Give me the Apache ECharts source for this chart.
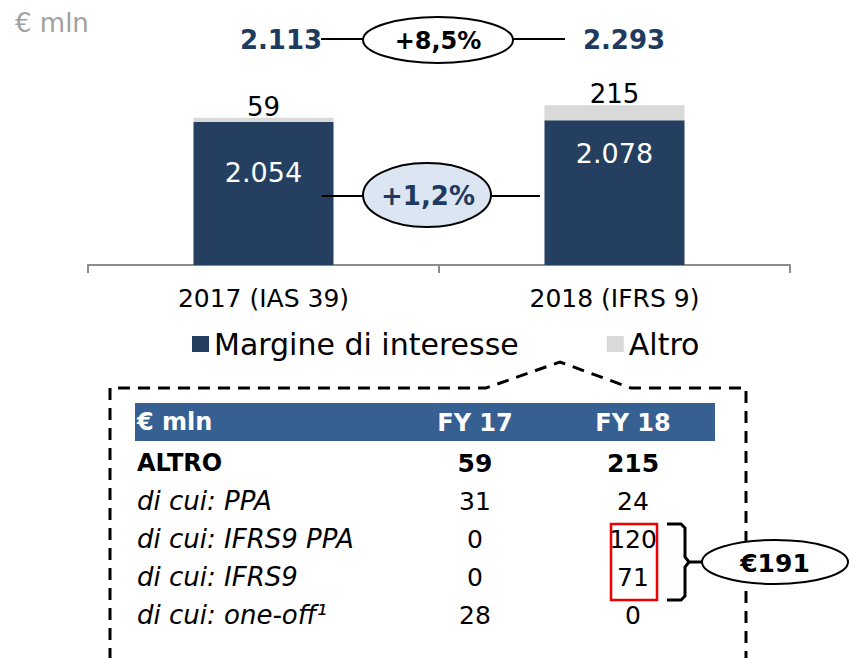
<!DOCTYPE html>
<html>
<head>
<meta charset="utf-8">
<script src="https://cdn.jsdelivr.net/npm/echarts@6/dist/echarts.min.js"></script>
<style>
html,body{margin:0;padding:0;background:#fff;}
#chart{width:849px;height:658px;}
</style>
</head>
<body>
<div id="chart"></div>
<script>
// ---- data ----
const categories = ['2017 (IAS 39)', '2018 (IFRS 9)'];
const seriesNames = ['Margine di interesse', 'Altro'];
const margine = [2054, 2078];
const altro = [59, 215];
const unitLabel = '€ mln';
const tableColumns = ['FY 17', 'FY 18'];
const tableRows = ['ALTRO', 'di cui: PPA', 'di cui: IFRS9 PPA', 'di cui: IFRS9', 'di cui: one-off¹'];
const fy17 = [59, 31, 0, 0, 28];
const fy18 = [215, 24, 120, 71, 0];
const highlightedRows = [2, 3];

// ---- helpers ----
const FONT = 'DejaVu Sans';
const NAVY = '#253f60';
const fmt = v => String(v).replace(/\B(?=(\d{3})+(?!\d))/g, '.');
const pct = (a, b) => '+' + ((b / a - 1) * 100).toFixed(1).replace('.', ',') + '%';
const totals = margine.map((v, i) => v + altro[i]);
const highlightSum = highlightedRows.reduce((s, r) => s + fy18[r], 0);

const tableData = [];
tableRows.forEach((r, i) => {
  tableData.push({ value: [0, i, fy17[i]], label: { fontWeight: i === 0 ? 'bold' : 'normal' } });
  tableData.push({ value: [1, i, fy18[i]], label: { fontWeight: i === 0 ? 'bold' : 'normal' } });
});

const chart = echarts.init(document.getElementById('chart'), null, { renderer: 'svg' });

const txt = (x, y, text, o) => ({
  type: 'text', x: x, y: y, z: 20,
  style: Object.assign({ text: text, fontFamily: FONT, fontSize: 24, fill: '#000', align: 'center', verticalAlign: 'middle' }, o || {})
});

chart.setOption({
  animation: false,
  textStyle: { fontFamily: FONT },
  legend: {
    data: seriesNames,
    left: 187, top: 324,
    itemWidth: 17, itemHeight: 16, itemGap: 88,
    icon: 'rect',
    textStyle: { fontSize: 30, color: '#000', fontFamily: FONT }
  },
  grid: [
    { left: 88, right: 59, top: 56, bottom: 393 },
    { left: 396, width: 316, top: 444, height: 190 }
  ],
  xAxis: [
    {
      type: 'category', gridIndex: 0, data: categories,
      axisLine: { lineStyle: { color: '#8c8c8c', width: 2 } },
      axisTick: { show: true, length: 8, lineStyle: { color: '#8c8c8c', width: 2 } },
      axisLabel: { fontSize: 25, color: '#000', margin: 21, fontFamily: FONT }
    },
    {
      type: 'category', gridIndex: 1, data: tableColumns, position: 'top', z: 10,
      axisLine: { show: false }, axisTick: { show: false },
      axisLabel: { fontSize: 24, fontWeight: 'bold', color: '#fff', margin: 9, fontFamily: FONT }
    }
  ],
  yAxis: [
    { type: 'value', gridIndex: 0, min: 0, max: 3000, show: false },
    {
      type: 'category', gridIndex: 1, data: tableRows, inverse: true,
      axisLine: { show: false }, axisTick: { show: false }, splitLine: { show: false },
      axisLabel: {
        align: 'left', margin: 259,
        formatter: (v, i) => (i === 0 ? '{b|' + v + '}' : '{i|' + v + '}'),
        rich: {
          b: { fontSize: 24, fontWeight: 'bold', color: '#000', fontFamily: FONT },
          i: { fontSize: 26, fontStyle: 'italic', color: '#000', fontFamily: FONT }
        }
      }
    }
  ],
  series: [
    {
      name: seriesNames[0], type: 'bar', stack: 'tot', xAxisIndex: 0, yAxisIndex: 0,
      barWidth: 140, itemStyle: { color: NAVY },
      data: margine.map((v, i) => ({ value: v, label: { distance: i === 0 ? 37 : 20 } })),
      label: {
        show: true, position: 'insideTop', color: '#fff', fontSize: 27, fontFamily: FONT,
        formatter: p => fmt(p.value)
      }
    },
    {
      name: seriesNames[1], type: 'bar', stack: 'tot', xAxisIndex: 0, yAxisIndex: 0,
      barWidth: 140, itemStyle: { color: '#d9d9d9' },
      data: altro,
      label: {
        show: true, position: 'top', distance: -2, color: '#000', fontSize: 26, fontFamily: FONT,
        formatter: p => fmt(p.value)
      }
    },
    {
      name: 'tabella', type: 'scatter', xAxisIndex: 1, yAxisIndex: 1,
      symbolSize: 1, itemStyle: { color: 'transparent', opacity: 1 }, silent: true,
      data: tableData,
      label: {
        show: true, position: 'inside', color: '#000', fontSize: 25, fontFamily: FONT,
        formatter: p => fmt(p.value[2])
      }
    }
  ],
  graphic: [
    // dashed callout box
    { type: 'polyline', z: 1, shape: { points: [[110, 660], [110, 388], [486, 388], [560, 362], [631, 388], [746, 388], [746, 660]] },
      style: { stroke: '#000', lineWidth: 3, lineDash: [12, 8], fill: null } },
    // header band
    { type: 'rect', z: 0, shape: { x: 135, y: 403, width: 580, height: 38 }, style: { fill: '#366092' } },
    txt(137, 422, unitLabel, { align: 'left', fill: '#fff', fontWeight: 'bold', fontSize: 24 }),
    // unit top-left
    txt(15, 23, unitLabel, { align: 'left', fill: '#a0a0a0', fontSize: 26 }),
    // totals comparison
    { type: 'line', z: 5, shape: { x1: 321, y1: 39, x2: 364, y2: 39 }, style: { stroke: '#000', lineWidth: 2 } },
    { type: 'line', z: 5, shape: { x1: 513, y1: 39, x2: 565, y2: 39 }, style: { stroke: '#000', lineWidth: 2 } },
    { type: 'ellipse', z: 6, shape: { cx: 438, cy: 40, rx: 75, ry: 23 }, style: { fill: '#fff', stroke: '#000', lineWidth: 2 } },
    txt(438, 41, pct(totals[0], totals[1]), { fontWeight: 'bold', fontSize: 24 }),
    txt(281, 40, fmt(totals[0]), { fontWeight: 'bold', fontSize: 26, fill: '#1f3a5f' }),
    txt(624, 40, fmt(totals[1]), { fontWeight: 'bold', fontSize: 26, fill: '#1f3a5f' }),
    // margine comparison
    { type: 'line', z: 5, shape: { x1: 322, y1: 196, x2: 364, y2: 196 }, style: { stroke: '#000', lineWidth: 2 } },
    { type: 'line', z: 5, shape: { x1: 491, y1: 196, x2: 540, y2: 196 }, style: { stroke: '#000', lineWidth: 2 } },
    { type: 'ellipse', z: 6, shape: { cx: 427, cy: 195, rx: 64, ry: 32 }, style: { fill: '#dce6f2', stroke: '#000', lineWidth: 2 } },
    txt(428, 196, pct(margine[0], margine[1]), { fontWeight: 'bold', fontSize: 26, fill: '#1f3a5f' }),
    // red highlight + brace
    { type: 'rect', z: 5, shape: { x: 611, y: 524, width: 46, height: 76 }, style: { fill: null, stroke: '#ee0000', lineWidth: 2.5 } },
    { type: 'polyline', z: 5, shape: { points: [[667, 524], [681, 524], [685, 528], [685, 557], [689, 562], [702, 562]] },
      style: { stroke: '#000', lineWidth: 3, fill: null } },
    { type: 'polyline', z: 5, shape: { points: [[689, 562], [685, 567], [685, 596], [681, 600], [667, 600]] },
      style: { stroke: '#000', lineWidth: 3, fill: null } },
    { type: 'ellipse', z: 6, shape: { cx: 775, cy: 562, rx: 73, ry: 22 }, style: { fill: '#fff', stroke: '#000', lineWidth: 2 } },
    txt(775, 563, '€' + highlightSum, { fontWeight: 'bold', fontSize: 25 })
  ]
});
</script>
</body>
</html>
